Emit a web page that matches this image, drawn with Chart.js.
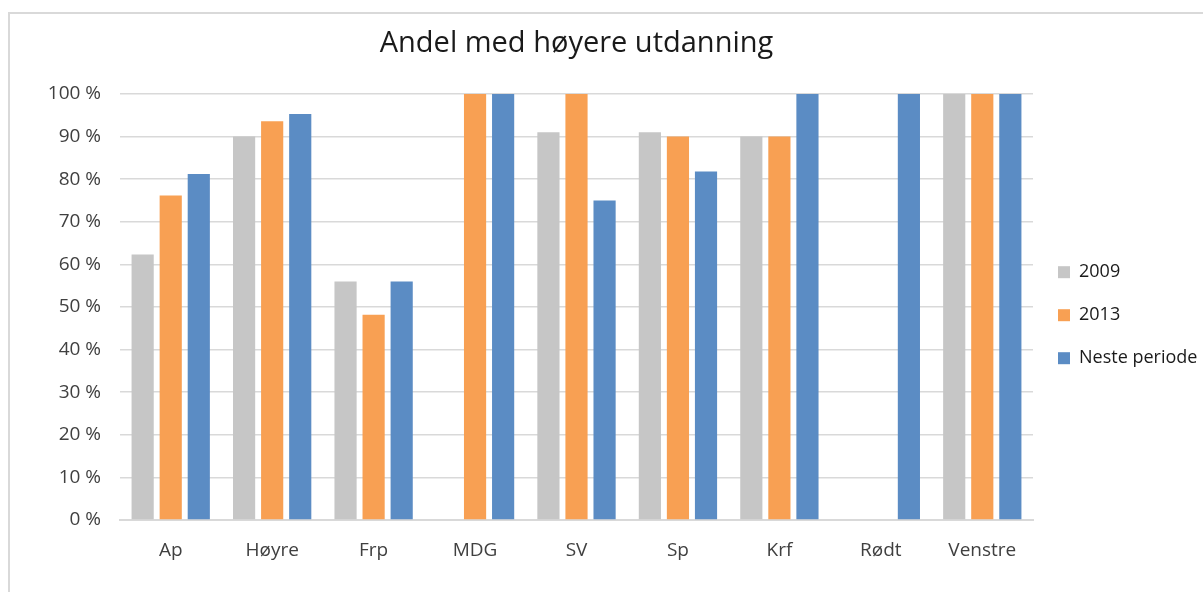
<!DOCTYPE html>
<html>
<head>
<meta charset="utf-8">
<script src="https://cdn.jsdelivr.net/npm/chart.js@4"></script>
<style>
  html, body { margin: 0; padding: 0; background: #fff; overflow: hidden; }
  #frame { position: absolute; left: 8px; top: 12px; width: 1300px; height: 700px; border: 2px solid #d9d9d9; }
  #chart { position: absolute; left: 0; top: 0; }
</style>
</head>
<body>
<div id="frame"></div>
<canvas id="chart" width="1203" height="592"></canvas>
<script>
const partier = ['Ap', 'Høyre', 'Frp', 'MDG', 'SV', 'Sp', 'Krf', 'Rødt', 'Venstre'];
const andel2009 = [62.3, 90, 56, null, 91, 91, 90, null, 100];
const andel2013 = [76.2, 93.6, 48.2, 100, 100, 90, 90, null, 100];
const andelNeste = [81.2, 95.3, 56, 100, 75, 81.8, 100, 100, 100];
const yTicks = [0, 10, 20, 30, 40, 50, 60, 70, 80, 90, 100];
const tittel = 'Andel med høyere utdanning';

const font = '"Open Sans", "Noto Sans", sans-serif';

// tittel sentreres over plotteområdet, slik som i Excel
const tittelPlugin = {
    id: 'tittel',
    afterDraw(chart) {
        const ctx = chart.ctx;
        const a = chart.chartArea;
        ctx.save();
        ctx.font = '29px ' + font;
        ctx.fillStyle = '#1a1a1a';
        ctx.textAlign = 'center';
        ctx.textBaseline = 'middle';
        ctx.fillText(tittel, (a.left + a.right) / 2, 44);
        ctx.restore();
    }
};

new Chart(document.getElementById('chart'), {
    type: 'bar',
    data: {
        labels: partier,
        datasets: [
            { label: '2009', data: andel2009, backgroundColor: '#c6c6c6' },
            { label: '2013', data: andel2013, backgroundColor: '#f8a053' },
            { label: 'Neste periode', data: andelNeste, backgroundColor: '#5b8cc4' }
        ]
    },
    options: {
        responsive: false,
        animation: false,
        categoryPercentage: 0.83,
        barPercentage: 0.79,
        layout: { padding: { top: 94, left: 10, right: 0, bottom: 0 } },
        scales: {
            x: {
                grid: { display: false },
                border: { color: '#d9d9d9', width: 2 },
                ticks: { color: '#404040', font: { family: font, size: 19 }, padding: 11 },
                afterFit: s => { s.height = 72; }
            },
            y: {
                min: 0,
                max: 100,
                afterBuildTicks: s => { s.ticks = yTicks.map(v => ({ value: v })); },
                grid: { color: '#d9d9d9', lineWidth: 1.5, drawTicks: false },
                border: { display: false },
                ticks: {
                    color: '#404040',
                    font: { family: font, size: 19 },
                    padding: 19,
                    callback: v => v + ' %'
                },
                afterFit: s => { s.width = 110; }
            }
        },
        plugins: {
            title: { display: false },
            tooltip: { enabled: false },
            legend: {
                position: 'right',
                fullSize: false,
                maxWidth: 170,
                title: { display: true, text: ' ', font: { size: 12 }, padding: 1 },
                labels: {
                    boxWidth: 12,
                    boxHeight: 12,
                    padding: 25,
                    color: '#1a1a1a',
                    font: { family: font, size: 18 }
                }
            }
        }
    },
    plugins: [tittelPlugin]
});
</script>
</body>
</html>
